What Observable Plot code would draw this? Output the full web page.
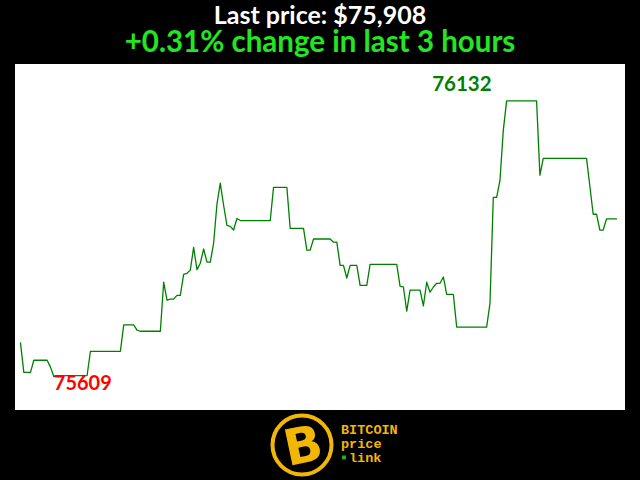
<!DOCTYPE html>
<html>
<head>
<meta charset="utf-8">
<script src="https://cdn.jsdelivr.net/npm/d3@7"></script>
<script src="https://cdn.jsdelivr.net/npm/@observablehq/plot@0.6"></script>
<style>
  html, body { margin: 0; padding: 0; background: #000; }
  #wrap { position: relative; width: 640px; height: 480px; background: #000; overflow: hidden; }
  .ttl { position: absolute; left: 0; width: 640px; text-align: center; font-family: Lato, "Open Sans", sans-serif; font-weight: 700; white-space: nowrap; }
  #t1 { top: 3px; font-size: 25px; line-height: 22px; height: 22px; color: #ffffff; }
  #t2 { top: 28px; font-size: 29.5px; line-height: 26px; height: 26px; color: #22e622; }
  #chart { position: absolute; left: 15px; top: 64px; }
  #logo { position: absolute; left: 0; top: 410px; }
</style>
</head>
<body>
<div id="wrap">
  <div id="t1" class="ttl"></div>
  <div id="t2" class="ttl"></div>
  <div id="chart"></div>
  <svg id="logo" width="640" height="70"></svg>
</div>
<script>
// Minute index (0..179 over the last 3 hours) of each vertex
const minutes = [0,1,3,4,8,9,10,11,20,21,30,31,34,35,36,42,43,44,45,46,47,48,49,50,51,52,53,54,55,56,57,58,59,60,61,62,63,64,65,66,75,76,80,81,85,86,87,88,93,94,95,96,97,98,99,101,102,104,105,113,114,115,116,117,120,121,122,123,124,125,126,127,128,130,131,140,141,142,143,144,145,146,155,156,157,170,171,172,173,174,175,176,179];
// BTC price (USD) at each vertex
const prices = [75673,75617,75617,75640,75640,75627,75609,75611,75611,75657,75657,75707,75707,75697,75695,75695,75788,75754,75756,75756,75763,75763,75803,75805,75811,75854,75812,75824,75851,75826,75826,75862,75936,75976,75934,75896,75894,75887,75909,75905,75905,75968,75968,75890,75890,75849,75849,75870,75870,75864,75864,75820,75820,75796,75820,75820,75782,75782,75822,75822,75780,75779,75733,75773,75773,75743,75788,75769,75779,75786,75786,75798,75765,75765,75703,75703,75748,75949,75949,75981,76076,76132,76132,75991,76023,76023,75970,75917,75917,75887,75887,75908,75908];

const titleText = "Last price: $75,908";
const subtitleText = "+0.31% change in last 3 hours";
const logoLines = ["BITCOIN", "price", "link"];

document.getElementById("t1").textContent = titleText;
document.getElementById("t2").textContent = subtitleText;

const data = minutes.map((m, i) => ({minute: m, price: prices[i]}));
const maxP = d3.max(prices), minP = d3.min(prices);
const maxPt = data.find(d => d.price === maxP);
const minPt = data.find(d => d.price === minP);
const range = maxP - minP;

const chart = Plot.plot({
  width: 610,
  height: 346,
  marginLeft: 5,
  marginRight: 9,
  marginTop: 0,
  marginBottom: 0,
  style: {background: "#ffffff", overflow: "visible"},
  x: {domain: [0, 179], axis: null},
  y: {domain: [minP - 0.123 * range, maxP + 0.132 * range], axis: null},
  marks: [
    Plot.line(data, {x: "minute", y: "price", stroke: "#008000", strokeWidth: 1.3}),
    Plot.text([maxPt], {x: "minute", y: "price", text: d => String(d.price), fill: "#008000",
      fontSize: 20.5, fontWeight: "bold", fontFamily: "Lato, sans-serif", textAnchor: "end", dx: -15, dy: -16}),
    Plot.text([minPt], {x: "minute", y: "price", text: d => String(d.price), fill: "#ff0000",
      fontSize: 20, fontWeight: "bold", fontFamily: "Lato, sans-serif", textAnchor: "start", dx: 0, dy: 7})
  ]
});
document.getElementById("chart").appendChild(chart);

// Logo (bitcoinprice.link)
const logo = d3.select("#logo");
const gold = "#f2b705";
logo.append("circle").attr("cx", 302).attr("cy", 35).attr("r", 29.5)
  .attr("fill", "#000").attr("stroke", gold).attr("stroke-width", 4);
logo.append("text").attr("x", 303).attr("y", 53).attr("text-anchor", "middle")
  .attr("transform", "rotate(-12 302 35)")
  .attr("font-family", "DejaVu Sans, sans-serif").attr("font-weight", "bold")
  .attr("font-size", 50).attr("fill", gold).text("B");
const lt = logo.append("g").attr("font-family", "Liberation Mono, DejaVu Sans Mono, monospace")
  .attr("font-weight", "bold").attr("font-size", 13.5).attr("fill", gold);
lt.append("text").attr("x", 341).attr("y", 24).text(logoLines[0]);
lt.append("text").attr("x", 341).attr("y", 38).text(logoLines[1]);
lt.append("text").attr("x", 349).attr("y", 52).text(logoLines[2]);
logo.append("rect").attr("x", 342).attr("y", 45.5).attr("width", 4).attr("height", 4).attr("fill", "#22aa22");
</script>
</body>
</html>
